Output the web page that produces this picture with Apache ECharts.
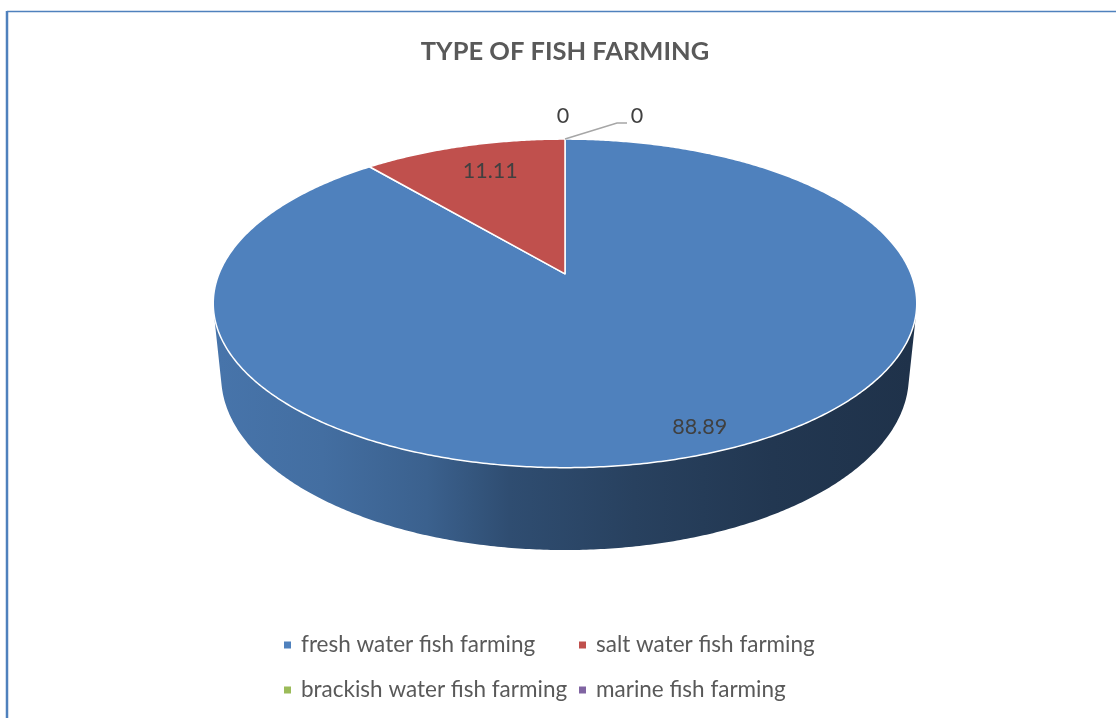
<!DOCTYPE html>
<html><head><meta charset="utf-8">
<script src="https://cdn.jsdelivr.net/npm/echarts@6/dist/echarts.min.js"></script>
<style>html,body{margin:0;padding:0;background:#fff}#chart{width:1116px;height:718px}</style>
</head><body><div id="chart"></div>
<script>
// ---- data ----
const categories = ['fresh water fish farming', 'salt water fish farming', 'brackish water fish farming', 'marine fish farming'];
const values = [88.89, 11.11, 0, 0];
const colors = ['#4f81bd', '#c0504d', '#9bbb59', '#8064a2'];
const titleText = 'TYPE OF FISH FARMING';

// ---- layout / style (3D pie view: radius, tilt, perspective distance, thickness) ----
const VIEW = { cx: 565, cy: 273.8, R: 346, tiltDeg: 27.35, dist: 1707, height: 83 };
const FONT = 'Lato, "Open Sans", "DejaVu Sans", sans-serif';
const labelRadius = 0.75;
const labelNudge = { 0: [33, 25], 1: [4, -3] };
const legendPos = [[284, 633], [579, 633], [284, 678], [579, 678]];

const total = values.reduce((a, b) => a + b, 0);
const starts = [];
values.reduce((acc, v, i) => { starts[i] = acc; return acc + v; }, 0);
const zeroOrder = {};
let zc = 0;
values.forEach((v, i) => { if (v === 0) zeroOrder[i] = zc++; });

function shade(hex, f) {
  const n = parseInt(hex.slice(1), 16);
  const r = (n >> 16) & 255, g = (n >> 8) & 255, b = n & 255;
  return 'rgb(' + Math.round(r * f) + ',' + Math.round(g * f) + ',' + Math.round(b * f) + ')';
}
const rad = d => d * Math.PI / 180;
const SA = Math.sin(rad(VIEW.tiltDeg)), CA = Math.cos(rad(VIEW.tiltDeg));
// project a 3D point (X right, Y up, Z away) to screen
function project(X, Y, Z) {
  const yUp = Z * SA + Y * CA;
  const depth = Z * CA - Y * SA;
  const s = VIEW.dist / (VIEW.dist + depth);
  return [VIEW.cx + X * s, VIEW.cy - yUp * s];
}
// silhouette generator angle of the cylinder wall (seen from the camera)
const SIL = Math.acos(VIEW.R / (VIEW.dist * CA)) * 180 / Math.PI;
const wallFrom = 180 - SIL, wallTo = 180 + SIL;

// phi: degrees clockwise from 12 o'clock
function rimPt(phi, k, Y) {
  const r = VIEW.R * k;
  return project(r * Math.sin(rad(phi)), Y, r * Math.cos(rad(phi)));
}
const topPt = (phi, k) => rimPt(phi, k == null ? 1 : k, 0);
const botPt = phi => rimPt(phi, 1, -VIEW.height);
function arc(fn, a, b) {
  const pts = []; const n = Math.max(2, Math.ceil(Math.abs(b - a) / 0.5));
  for (let j = 0; j <= n; j++) pts.push(fn(a + (b - a) * j / n));
  return pts;
}

function makeRender(i) {
  return function (params, api) {
    const start = api.value(0), val = api.value(1);
    const a = start / total * 360, b = (start + val) / total * 360;
    const color = colors[i];
    const children = [];
    const textStyle = t => ({ text: t, fill: '#404040', fontSize: 21.5, fontFamily: FONT, align: 'center', verticalAlign: 'middle' });
    if (val > 0) {
      // outer wall (front-facing part)
      const wa = Math.max(a, wallFrom), wb = Math.min(b, wallTo);
      if (wb > wa) {
        const pts = arc(topPt, wa, wb).concat(arc(botPt, wb, wa));
        const stops = [[0, 0.9], [0.15, 0.85], [0.3, 0.75], [0.42, 0.6], [0.6, 0.5], [0.8, 0.43], [1, 0.39]]
          .map(s => ({ offset: s[0], color: shade(color, s[1]) }));
        const xl = VIEW.cx - VIEW.R, xr = VIEW.cx + VIEW.R;
        children.push({
          type: 'polygon', z2: 1, shape: { points: pts },
          style: { fill: new echarts.graphic.LinearGradient(xl, 0, xr, 0, stops, true), stroke: null }
        });
      }
      // top face
      const tp = [topPt(0, 0)].concat(arc(topPt, a, b));
      children.push({
        type: 'polygon', z2: 5, shape: { points: tp },
        style: { fill: color, stroke: '#ffffff', lineWidth: 1.5, lineJoin: 'round' }
      });
      const mid = (a + b) / 2;
      const p = topPt(mid, labelRadius);
      const nd = labelNudge[i] || [0, 0];
      children.push({ type: 'text', z2: 10, x: p[0] + nd[0], y: p[1] + nd[1], style: textStyle(String(values[i])) });
    } else {
      const anchor = topPt(a);
      const k = zeroOrder[i];
      if (k === 0) {
        children.push({ type: 'text', z2: 10, x: anchor[0] - 2, y: anchor[1] - 23, style: textStyle('0') });
      } else {
        const ex = anchor[0] + 52 * k, ey = anchor[1] - 16;
        children.push({
          type: 'polyline', z2: 9, shape: { points: [anchor, [ex, ey], [ex + 10, ey]] },
          style: { stroke: '#a6a6a6', lineWidth: 1.5, fill: null }
        });
        children.push({ type: 'text', z2: 10, x: ex + 20, y: ey - 7, style: textStyle('0') });
      }
    }
    return { type: 'group', children: children };
  };
}

const series = categories.map((name, i) => ({
  type: 'custom', name: name, coordinateSystem: 'none', silent: true,
  itemStyle: { color: colors[i] },
  renderItem: makeRender(i),
  data: [[starts[i], values[i]]],
  animation: false
}));

const legends = categories.map((name, i) => ({
  data: [name], left: legendPos[i][0], top: legendPos[i][1], padding: 0,
  icon: 'rect', itemWidth: 7, itemHeight: 7, selectedMode: false,
  textStyle: { color: '#595959', fontSize: 22.5, fontFamily: FONT, lineHeight: 24, padding: [0, 0, 0, 5] }
}));

const chart = echarts.init(document.getElementById('chart'), null, { renderer: 'canvas' });
chart.setOption({
  animation: false,
  color: colors,
  title: {
    text: titleText, left: 560, top: 34, textAlign: 'center',
    textStyle: { color: '#595959', fontSize: 25.5, fontWeight: 'bold', fontFamily: FONT }
  },
  legend: legends,
  graphic: [
    { type: 'line', shape: { x1: 7, y1: 11.5, x2: 1116, y2: 11.5 }, style: { stroke: '#4f81bd', lineWidth: 1.5 } },
    { type: 'line', shape: { x1: 7, y1: 11, x2: 7, y2: 718 }, style: { stroke: '#4f81bd', lineWidth: 2.5 } }
  ],
  series: series
});
</script>
</body></html>
